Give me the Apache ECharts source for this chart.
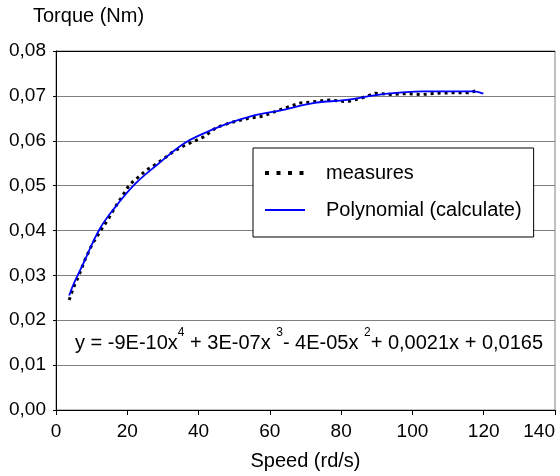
<!DOCTYPE html>
<html>
<head>
<meta charset="utf-8">
<script src="https://cdn.jsdelivr.net/npm/echarts@6/dist/echarts.min.js"></script>
<style>
html,body{margin:0;padding:0;background:#fff;}
#c{width:560px;height:476px;}
</style>
</head>
<body>
<div id="c"></div>
<script>
var measuresX = [3.7, 4.9, 6.3, 8.1, 10, 12.3, 14.7, 16.6, 18.7, 20.6, 23.1, 25.4, 28.1, 30.6, 32.9, 36.2, 38.5, 41.3, 45.1, 49.3, 54, 58.2, 63.8, 68.5, 72.2, 76.7, 81.6, 85.3, 89.5, 94, 98.4, 102.6, 107.3, 111.5, 115.7, 118.7];
var measuresY = [0.0245, 0.0273, 0.0297, 0.0334, 0.0367, 0.0397, 0.0426, 0.0452, 0.0478, 0.0502, 0.0519, 0.0535, 0.0548, 0.0562, 0.0576, 0.0590, 0.0598, 0.0608, 0.0630, 0.0641, 0.0650, 0.0655, 0.0672, 0.0684, 0.0687, 0.0691, 0.0687, 0.0694, 0.0706, 0.0703, 0.0705, 0.0703, 0.0706, 0.0707, 0.0707, 0.0713];
var polyX = [3.7, 4.9, 7.7, 12.3, 17, 22.2, 28.3, 35.7, 41.3, 47, 54.4, 63.8, 72.2, 81.6, 90.9, 103, 110, 117, 119.9];
var polyY = [0.0255, 0.0280, 0.0327, 0.0404, 0.0456, 0.0504, 0.0546, 0.0593, 0.0616, 0.0635, 0.0654, 0.0669, 0.0684, 0.0691, 0.0703, 0.0710, 0.0710, 0.0710, 0.0705];
var xTicks = [0, 20, 40, 60, 80, 100, 120, 140];
var yTicks = [0, 0.01, 0.02, 0.03, 0.04, 0.05, 0.06, 0.07, 0.08];
var seriesNames = ['measures', 'Polynomial (calculate)'];
var xTitle = 'Speed (rd/s)';
var yTitle = 'Torque (Nm)';

function pairs(xs, ys) { return xs.map(function (x, i) { return [x, ys[i]]; }); }

var FONT = '"Liberation Sans", Arial, sans-serif';
var chart = echarts.init(document.getElementById('c'), null, {renderer: 'canvas'});
var gridColors = yTicks.map(function (v, i) { return i === yTicks.length - 1 ? '#000000' : '#808080'; });

chart.setOption({
  backgroundColor: '#ffffff',
  animation: false,
  textStyle: {fontFamily: FONT},
  title: {
    text: yTitle, left: 28, top: 1,
    textStyle: {fontFamily: FONT, fontSize: 20, fontWeight: 'normal', color: '#000'}
  },
  grid: {left: 56, right: 5, top: 51, bottom: 63, show: true, borderColor: '#808080', borderWidth: 1, containLabel: false},
  legend: {
    left: 253, top: 148, orient: 'vertical',
    backgroundColor: '#fff', borderColor: '#000', borderWidth: 1,
    padding: [14, 12, 16, 10], itemGap: 15, itemWidth: 40, itemHeight: 22,
    itemStyle: {opacity: 0, borderWidth: 0},
    textStyle: {fontFamily: FONT, fontSize: 20, color: '#000', padding: [0, 0, 0, 16], lineHeight: 22},
    data: [
      {name: seriesNames[0], lineStyle: {width: 4, type: [4, 7.5], cap: 'butt', color: '#000'}},
      {name: seriesNames[1]}
    ]
  },
  xAxis: {
    type: 'value', min: xTicks[0], max: xTicks[xTicks.length - 1], interval: 20,
    name: xTitle, nameLocation: 'middle', nameGap: 41,
    nameTextStyle: {fontFamily: FONT, fontSize: 20, color: '#000'},
    axisLine: {show: true, lineStyle: {color: '#000', width: 1}},
    axisTick: {show: true, inside: false, length: 5, lineStyle: {color: '#000'}},
    axisLabel: {fontFamily: FONT, fontSize: 19, color: '#000', margin: 12, alignMaxLabel: 'right'},
    splitLine: {show: false}
  },
  yAxis: {
    type: 'value', min: yTicks[0], max: yTicks[yTicks.length - 1], interval: 0.01,
    axisLine: {show: true, lineStyle: {color: '#000', width: 1}},
    axisTick: {show: true, inside: false, length: 3, lineStyle: {color: '#000'}},
    axisLabel: {fontFamily: FONT, fontSize: 19, color: '#000', margin: 10,
      formatter: function (v) { return v.toFixed(2).replace('.', ','); }},
    splitLine: {show: true, lineStyle: {color: gridColors, width: 1}}
  },
  graphic: [{
    type: 'text', left: 75, top: 327, z: 100,
    style: {
      text: '{m|y = -9E-10x}{s|4}{m| + 3E-07x }{s|3}{m|- 4E-05x }{s|2}{m|+ 0,0021x + 0,0165}',
      font: '20px ' + FONT, fill: '#000',
      rich: {
        m: {fontSize: 20, fontFamily: FONT, fill: '#000', lineHeight: 26, verticalAlign: 'bottom'},
        s: {fontSize: 12, fontFamily: FONT, fill: '#000', lineHeight: 14, verticalAlign: 'top'}
      }
    }
  }],
  series: [{
    name: seriesNames[0], type: 'line', data: pairs(measuresX, measuresY),
    symbol: 'none', smooth: false,
    lineStyle: {color: '#000', width: 3, type: [3, 4], cap: 'butt'},
    itemStyle: {color: '#000'}, z: 2
  }, {
    name: seriesNames[1], type: 'line', data: pairs(polyX, polyY),
    symbol: 'none', smooth: 0.4,
    lineStyle: {color: '#0000ff', width: 1.8},
    itemStyle: {color: '#0000ff'}, z: 3
  }]
});
</script>
</body>
</html>
